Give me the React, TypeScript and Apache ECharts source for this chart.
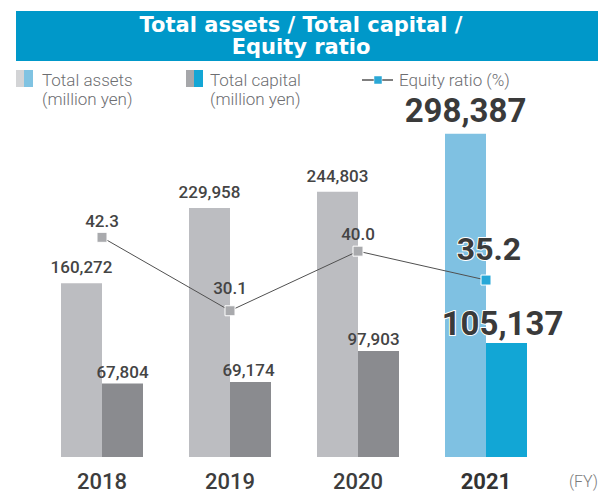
import React, { useEffect, useRef } from "react";
import * as echarts from "echarts";

const years = ["2018", "2019", "2020", "2021"];
const totalAssets = [160272, 229958, 244803, 298387];
const totalCapital = [67804, 69174, 97903, 105137];
const equityRatio = [42.3, 30.1, 40.0, 35.2];

const FONT = "Roboto, 'Noto Sans', sans-serif";

export default function App() {
  const ref = useRef<HTMLDivElement>(null);
  useEffect(() => {
    const chart = echarts.init(ref.current!, null, { renderer: "svg" });
    const last = years.length - 1;
    const fmt = (v: number) => v.toLocaleString("en-US");

    const bigLabel = {
      fontSize: 33,
      fontWeight: "bold",
      color: "#3a3a3a",
      textBorderColor: "#fff",
      textBorderWidth: 2,
    };
    const ratioDist = [2, 9, 3, 10];
    const capitalOffset = [0, -2, -5, -4];

    const legendText = (text: string, x: number, y: number) => ({
      type: "text",
      x,
      y,
      style: {
        text,
        fill: "#6d6e71",
        fontSize: 17,
        fontWeight: 300,
        fontFamily: FONT,
        verticalAlign: "middle",
      },
    });

    const option: any = {
      animation: false,
      backgroundColor: "#fff",
      textStyle: { fontFamily: FONT },
      grid: { left: 38, right: 48, top: 132, bottom: 36 },
      xAxis: {
        type: "category",
        data: years.map((y, i) =>
          i === last ? { value: y, textStyle: { fontWeight: "bold", color: "#333" } } : y
        ),
        axisLine: { show: false },
        axisTick: { show: false },
        axisLabel: { margin: 13, fontSize: 22, fontWeight: 500, color: "#3d3d3d", fontFamily: FONT },
      },
      yAxis: [
        { type: "value", min: 0, max: 300000, show: false, splitLine: { show: false } },
        { type: "value", min: 5.8, max: 59.8, show: false, splitLine: { show: false } },
      ],
      series: [
        {
          type: "bar",
          name: "Total assets",
          barWidth: 41,
          barGap: "0%",
          data: totalAssets.map((v, i) => ({
            value: v,
            itemStyle: { color: i === last ? "#7fc1e2" : "#bcbdc1" },
            label: i === last ? { ...bigLabel, distance: 7 } : {},
          })),
          label: {
            show: true,
            position: "top",
            distance: 7.5,
            fontSize: 17,
            fontWeight: 500,
            color: "#444",
            fontFamily: FONT,
            formatter: (p: any) => fmt(p.value),
          },
        },
        {
          type: "bar",
          name: "Total capital",
          barWidth: 41,
          barGap: "0%",
          data: totalCapital.map((v, i) => ({
            value: v,
            itemStyle: { color: i === last ? "#12a6d5" : "#8a8b8f" },
            label:
              i === last
                ? { ...bigLabel, distance: 3, offset: [capitalOffset[i], 0] }
                : { offset: [capitalOffset[i], 0] },
          })),
          label: {
            show: true,
            position: "top",
            distance: 3.5,
            fontSize: 17,
            fontWeight: 500,
            color: "#444",
            fontFamily: FONT,
            formatter: (p: any) => fmt(p.value),
          },
        },
        {
          type: "line",
          name: "Equity ratio",
          yAxisIndex: 1,
          z: 5,
          symbol: "rect",
          symbolSize: 10,
          lineStyle: { color: "#505050", width: 1 },
          itemStyle: { color: "#a9aaad", borderColor: "#fff", borderWidth: 1 },
          data: equityRatio.map((v, i) => ({
            value: v,
            itemStyle: i === last ? { color: "#27a8d8" } : {},
            label:
              i === last
                ? { ...bigLabel, fontSize: 32, distance: ratioDist[i], offset: [3, 0] }
                : { distance: ratioDist[i] },
          })),
          label: {
            show: true,
            position: "top",
            fontSize: 17,
            fontWeight: 500,
            color: "#444",
            fontFamily: FONT,
            formatter: (p: any) => Number(p.value).toFixed(1),
          },
        },
      ],
      graphic: [
        { type: "rect", shape: { x: 16, y: 11, width: 582, height: 50 }, style: { fill: "#0098c9" } },
        {
          type: "text",
          x: 301,
          y: 36,
          style: {
            text: "Total assets / Total capital /\nEquity ratio",
            fill: "#fff",
            fontSize: 21,
            fontWeight: "bold",
            fontFamily: "'DejaVu Sans', sans-serif",
            align: "center",
            verticalAlign: "middle",
            lineHeight: 22,
          },
        },
        { type: "rect", shape: { x: 16, y: 70, width: 8, height: 17 }, style: { fill: "#d3d4d6" } },
        { type: "rect", shape: { x: 24, y: 70, width: 9, height: 17 }, style: { fill: "#80c3e2" } },
        legendText("Total assets", 42, 79.5),
        legendText("(million yen)", 42, 98.5),
        { type: "rect", shape: { x: 186, y: 70, width: 8, height: 17 }, style: { fill: "#a6a7aa" } },
        { type: "rect", shape: { x: 194, y: 70, width: 9, height: 17 }, style: { fill: "#13a6d5" } },
        legendText("Total capital", 210, 79.5),
        legendText("(million yen)", 210, 98.5),
        { type: "line", shape: { x1: 362, y1: 80, x2: 393, y2: 80 }, style: { stroke: "#555", lineWidth: 1.5 } },
        { type: "rect", shape: { x: 374, y: 76, width: 8, height: 8 }, style: { fill: "#2aa8d6", stroke: "#fff", lineWidth: 0.5 } },
        legendText("Equity ratio (%)", 399, 79.5),
        {
          type: "text",
          x: 569,
          y: 481,
          style: {
            text: "(FY)",
            fill: "#7a7a7a",
            fontSize: 16,
            fontWeight: 300,
            fontFamily: FONT,
            verticalAlign: "middle",
          },
        },
      ],
    };
    chart.setOption(option);
    return () => chart.dispose();
  }, []);
  return <div ref={ref} style={{ position: "fixed", left: 0, top: 0, width: 598, height: 493 }} />;
}
